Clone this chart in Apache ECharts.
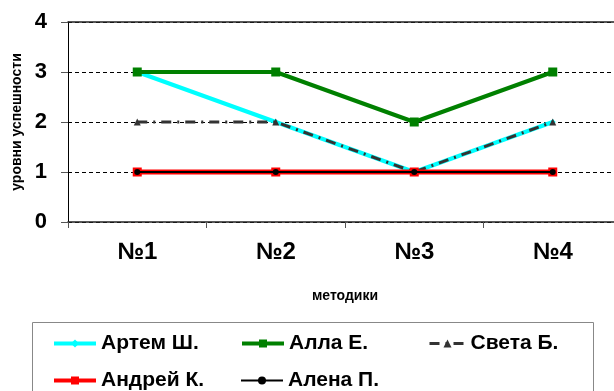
<!DOCTYPE html>
<html>
<head>
<meta charset="utf-8">
<script src="https://cdn.jsdelivr.net/npm/echarts@6/dist/echarts.min.js"></script>
<style>
html,body{margin:0;padding:0;background:#fff;}
#chart{width:614px;height:391px;}
</style>
</head>
<body>
<div id="chart"></div>
<script>
const categories = ['№1', '№2', '№3', '№4'];
const yTicks = [0, 1, 2, 3, 4];
const artem = [3, 2, 1, 2];
const alla = [3, 3, 2, 3];
const sveta = [2, 2, 1, 2];
const andrey = [1, 1, 1, 1];
const alena = [1, 1, 1, 1];
const seriesNames = ['Артем Ш.', 'Алла Е.', 'Света Б.', 'Андрей К.', 'Алена П.'];
const xTitle = 'методики';
const yTitle = 'уровни успешности';

const chart = echarts.init(document.getElementById('chart'), null, {renderer: 'canvas'});
const font = 'Arial, "Liberation Sans", sans-serif';
const legendText = {fontFamily: font, fontWeight: 'bold', fontSize: 21, color: '#000'};

function leg(name, left, top, w, lw) {
  return {
    data: [name], left: left, top: top, padding: 0, itemWidth: w, itemHeight: 10,
    itemGap: 0, textStyle: legendText, selectedMode: false,
    lineStyle: {width: lw}
  };
}

chart.setOption({
  animation: false,
  backgroundColor: '#fff',
  grid: {left: 68, width: 554, top: 22, height: 200, show: false,
    containLabel: false, outerBoundsMode: 'none'},
  xAxis: [{
    type: 'category', data: categories, boundaryGap: true,
    axisLine: {lineStyle: {color: '#222', width: 1.5}},
    axisTick: {show: true, length: 6, lineStyle: {color: '#555'}},
    axisLabel: {fontFamily: font, fontWeight: 'bold', fontSize: 24, color: '#000', margin: 18},
    name: xTitle, nameLocation: 'middle', nameGap: 67,
    nameTextStyle: {fontFamily: font, fontWeight: 'bold', fontSize: 14, color: '#000'}
  }, {
    type: 'category', data: categories, position: 'top',
    axisLine: {show: true, onZero: false, lineStyle: {color: '#222', width: 1.5}},
    axisTick: {show: false}, axisLabel: {show: false}, splitLine: {show: false}
  }],
  yAxis: {
    type: 'value', min: 0, max: 4, interval: 1,
    axisLine: {show: true, lineStyle: {color: '#000'}},
    axisTick: {show: true, length: 7, lineStyle: {color: '#555'}},
    axisLabel: {fontFamily: font, fontWeight: 'bold', fontSize: 22, color: '#000', margin: 21,
      formatter: v => yTicks.includes(v) ? String(v) : ''},
    splitLine: {show: true, lineStyle: {color: '#000', type: [4, 3], width: 1}},
    name: yTitle, nameLocation: 'middle', nameGap: 43, nameRotate: 90,
    nameTextStyle: {fontFamily: font, fontWeight: 'bold', fontSize: 14, color: '#000'}
  },
  legend: [
    leg(seriesNames[0], 52, 333, 42, 4),
    leg(seriesNames[1], 240, 333, 42, 4),
    leg(seriesNames[2], 428, 333, 36, 3),
    leg(seriesNames[3], 52, 370, 42, 4),
    leg(seriesNames[4], 240, 370, 42, 2)
  ],
  graphic: [{
    type: 'rect', shape: {x: 32.5, y: 322.5, width: 561, height: 80},
    style: {fill: 'none', stroke: '#888', lineWidth: 1}, z: -1
  }],
  series: [
    {name: seriesNames[0], type: 'line', data: artem, symbol: 'diamond', symbolSize: 6,
      lineStyle: {color: '#00FFFF', width: 4}, itemStyle: {color: '#00FFFF'}, z: 2},
    {name: seriesNames[1], type: 'line', data: alla, symbol: 'rect', symbolSize: 9,
      lineStyle: {color: '#008000', width: 4}, itemStyle: {color: '#008000'}, z: 3},
    {name: seriesNames[2], type: 'line', data: sveta, symbol: 'triangle', symbolSize: 7,
      lineStyle: {color: '#333333', width: 3, type: [10, 6, 2, 6]}, itemStyle: {color: '#333333'}, z: 4},
    {name: seriesNames[3], type: 'line', data: andrey, symbol: 'rect', symbolSize: 9,
      lineStyle: {color: '#FF0000', width: 5}, itemStyle: {color: '#FF0000'}, z: 5},
    {name: seriesNames[4], type: 'line', data: alena, symbol: 'circle', symbolSize: 6,
      lineStyle: {color: '#000000', width: 2}, itemStyle: {color: '#000000'}, z: 6}
  ]
});
</script>
</body>
</html>
